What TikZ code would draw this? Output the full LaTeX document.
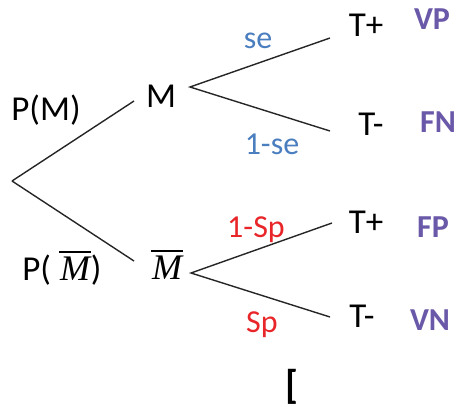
\documentclass[tikz,border=0pt]{standalone}
\usepackage{fontspec}
\setmainfont{Carlito}
\newfontfamily\varfont{Liberation Serif}
\definecolor{probblue}{HTML}{4A7EBF}
\definecolor{probred}{HTML}{E8262A}
\definecolor{outcome}{HTML}{6A58A8}
% an italic M with a bar over it
\newcommand{\Mbar}{\leavevmode\vbox{\hrule height 1.8pt\kern3.5pt\hbox{\varfont\itshape\kern1pt M\kern1pt}}}
\begin{document}
\begin{tikzpicture}[x=1pt,y=-1pt,
  branch/.style={line width=1.4pt, black!85},
  lbl/.style={anchor=base, inner sep=0pt, font=\fontsize{35}{40}\selectfont},
  varlbl/.style={anchor=base, inner sep=0pt, font=\fontsize{36}{40}\selectfont},
  sens/.style={anchor=base, inner sep=0pt, text=probblue, font=\fontsize{32}{38}\selectfont},
  spec/.style={anchor=base, inner sep=0pt, text=probred, font=\fontsize{32}{38}\selectfont},
  res/.style={anchor=base, inner sep=0pt, text=outcome, font=\fontsize{32}{38}\selectfont\bfseries}]
\useasboundingbox (0,0) rectangle (456,407);

% branch points and leaf ends
\coordinate (root) at (12,181);
\coordinate (mEnd) at (134,101);
\coordinate (nEnd) at (134,261);
\coordinate (mFork) at (190,87);
\coordinate (nFork) at (191,273);
\coordinate (mPos) at (330,38);
\coordinate (mNeg) at (330,131);
\coordinate (nPos) at (332,223);
\coordinate (nNeg) at (330,317);

% first level
\draw[branch] (root) -- (mEnd);
\draw[branch] (root) -- (nEnd);
% second level
\draw[branch] (mPos) -- (mFork) -- (mNeg);
\draw[branch] (nPos) -- (nFork) -- (nNeg);

% first-level labels
\node[lbl] (pm) at (46,120) {P(M)};
\node[lbl] (pnm) at (62,280) {P( {\fontsize{36}{40}\selectfont\Mbar})};
\node[lbl] (m) at (161,107) {M};
\node[varlbl] (nm) at (167,279) {\Mbar};

% probabilities on the test branches
\node[sens] (se) at (258,48) {se};
\node[sens] (cse) at (272,154) {1-se};
\node[spec] (csp) at (256,237) {1-Sp};
\node[spec] (sp) at (262,332) {Sp};

% test results and outcomes
\node[lbl] (tp1) at (366,36) {T+};
\node[lbl] (tn1) at (371,135) {T-};
\node[lbl] (tp2) at (366,233) {T+};
\node[lbl] (tn2) at (362,327) {T-};
\node[res] (vp) at (432,29) {VP};
\node[res] (fn) at (438,132) {FN};
\node[res] (fp) at (433,237) {FP};
\node[res] (vn) at (430,330) {VN};

\node[anchor=base, inner sep=0pt, font=\fontsize{40}{44}\selectfont\bfseries] (brk) at (292,398) {[};
\end{tikzpicture}
\end{document}
